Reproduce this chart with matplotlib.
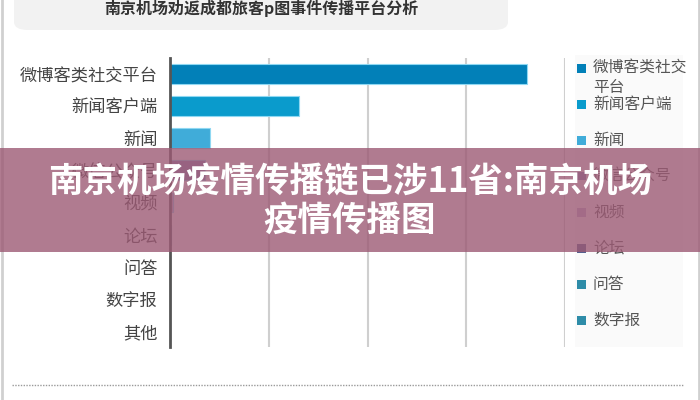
import matplotlib
matplotlib.use("Agg")
import matplotlib.pyplot as plt
from matplotlib.patches import FancyBboxPatch, Rectangle
from matplotlib.lines import Line2D

plt.rcParams['font.family'] = ['Noto Sans CJK SC', 'DejaVu Sans']

# ---- data ----
title = "南京机场劝返成都旅客p图事件传播平台分析"
categories = ["微博客类社交平台", "新闻客户端", "新闻", "微信公众号", "视频",
              "论坛", "问答", "数字报", "其他"]
values = [72.3, 26.1, 8.1, 7.1, 0.6, 0.3, 0.0, 0.0, 0.0]
colors = ["#0280b8", "#0a9bcc", "#40acd9", "#8a82b8", "#c0b0d4",
          "#55608f", "#2e8ca8", "#2e8ca8", "#3a90a5"]
legend_labels = ["微博客类社交\n平台", "新闻客户端", "新闻", "微信公众号", "视频",
                 "论坛", "问答", "数字报"]
overlay_text = "南京机场疫情传播链已涉11省:南京机场\n疫情传播图"
xticks = [0, 20, 40, 60, 80]

W, H = 700, 400
fig = plt.figure(figsize=(7, 4), dpi=100)
fig.patch.set_facecolor("white")

def fx(px):
    return px / W

def fy(py):
    return 1 - py / H

# title box
fig.patches.append(FancyBboxPatch((fx(14), fy(30)), fx(494), fy(0) - fy(30) + 0.05,
                                  boxstyle="round,pad=0,rounding_size=0.02",
                                  transform=fig.transFigure, facecolor="#f2f2f2",
                                  edgecolor="none", zorder=0))
fig.text(fx(261), fy(8), title, ha="center", va="center", fontsize=11.5,
         fontweight="bold", color="#333333")

# main axes
ax = fig.add_axes([fx(170), fy(347), fx(565) - fx(170), fy(58) - fy(347)])
ypos = list(range(len(categories)))
ax.barh(ypos, values, height=0.62, color=colors, edgecolor="#8fd8f2",
        linewidth=0.8, zorder=3)
ax.set_ylim(len(categories) - 0.5, -0.5)
ax.set_xlim(0, 80)
ax.set_yticks(ypos)
ax.set_yticklabels(categories, fontsize=12.4, color="#444444")
ax.tick_params(axis="y", length=0, pad=9)
ax.set_xticks(xticks)
ax.set_xticklabels([])
ax.tick_params(axis="x", length=0)
ax.grid(axis="x", color="#cfcfcf", linewidth=1.5, zorder=0)
for s in ["top", "right", "bottom"]:
    ax.spines[s].set_visible(False)
ax.spines["left"].set_color("#555555")
ax.spines["left"].set_linewidth(2)
ax.spines["left"].set_zorder(4)
ax.set_facecolor("none")

# legend panel
fig.patches.append(Rectangle((fx(575), fy(347)), fx(108), fy(55) - fy(347),
                             transform=fig.transFigure, facecolor="#fafafa",
                             edgecolor="none", zorder=0))
leg_y = [68, 104, 140, 176, 212, 248, 284, 320]
for lab, col, yy in zip(legend_labels, colors, leg_y):
    fig.patches.append(Rectangle((fx(577), fy(yy + 4.5)), fx(9), fy(0) - fy(9),
                                 transform=fig.transFigure, facecolor=col,
                                 edgecolor="none", zorder=2))
    if "\n" in lab:
        fig.text(fx(593), fy(yy - 9), lab, ha="left", va="top", fontsize=11.3,
                 color="#555555", linespacing=1.2)
    else:
        fig.text(fx(593), fy(yy), lab, ha="left", va="center", fontsize=11.3,
                 color="#555555")

# bottom dotted line
fig.add_artist(Line2D([fx(12), fx(683)], [fy(385), fy(385)], transform=fig.transFigure,
                      color="#9a9a9a", linewidth=1, linestyle=(0, (1, 1))))

# window borders
fig.add_artist(Line2D([fx(2), fx(2)], [0, 1], transform=fig.transFigure,
                      color="#d0d0d0", linewidth=2))
fig.add_artist(Line2D([fx(698.5), fx(698.5)], [0, 1], transform=fig.transFigure,
                      color="#d0d0d0", linewidth=2))

# overlay banner
fig.add_artist(Rectangle((0, fy(252)), 1, fy(148) - fy(252), transform=fig.transFigure,
                         facecolor="#9c5a74", alpha=0.8, edgecolor="none", zorder=10))
fig.text(0.5, fy(201), overlay_text, ha="center", va="center", fontsize=24.8,
         fontweight="bold", color="white", linespacing=1.1, zorder=11)

fig.savefig("out.png", dpi=100)
